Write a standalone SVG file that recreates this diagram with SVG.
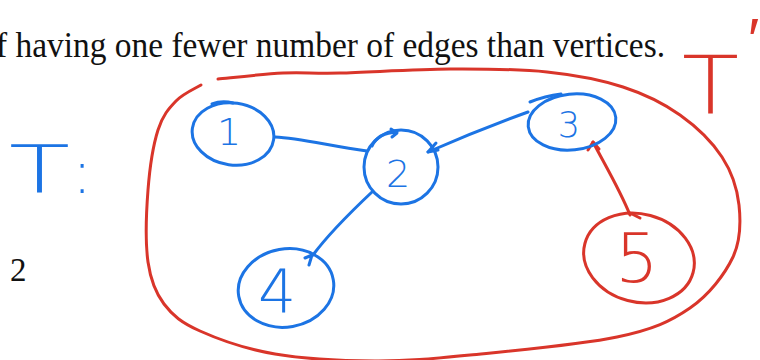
<svg xmlns="http://www.w3.org/2000/svg" width="760" height="360" viewBox="0 0 760 360">
<style>
.b{fill:none;stroke:#1c74e4;stroke-width:3;stroke-linecap:round;stroke-linejoin:round;}
.r{fill:none;stroke:#d9352a;stroke-width:3;stroke-linecap:round;stroke-linejoin:round;}
.bt{font-family:"DejaVu Sans",sans-serif;font-weight:200;fill:#1c74e4;}
.rt{font-family:"DejaVu Sans",sans-serif;font-weight:200;fill:#d9352a;}
</style>
<rect width="760" height="360" fill="#ffffff"/>
<g id="printed-text" font-family="'Liberation Serif', 'Times New Roman', serif" fill="#111111">
<text x="-4" y="57" font-size="35" textLength="669" lengthAdjust="spacingAndGlyphs">f having one fewer number of edges than vertices.</text>
<text x="10" y="281" font-size="33">2</text>
</g>
<g id="label-T-blue">
<text class="bt" y="193" font-size="66"><tspan x="9" textLength="61" lengthAdjust="spacingAndGlyphs">T</tspan><tspan x="72" font-size="60">:</tspan></text>
</g>
<g id="label-T-red">
<text class="rt" y="113" font-size="80"><tspan x="682" textLength="57" lengthAdjust="spacingAndGlyphs">T</tspan><tspan x="748" y="60" font-size="60">′</tspan></text>
</g>
<g id="boundary-loop">
<path class="r" d="M201,85 C196.8,87.7 183.2,93.5 176,101 C168.8,108.5 162.7,115.2 158,130 C153.3,144.8 149.7,168 148,190 C146.3,212 145.3,243 148,262 C150.7,281 155.3,292.5 164,304 C172.7,315.5 181.5,322.7 200,331 C218.5,339.3 245.8,349 275,354 C304.2,359 342.5,360.8 375,361 C407.5,361.2 429.7,359 470,355 C510.3,351 580.3,344.8 617,337 C653.7,329.2 670.7,321.3 690,308 C709.3,294.7 724.8,274.2 733,257 C741.2,239.8 740.8,221.7 739,205 C737.2,188.3 731.8,172 722,157 C712.2,142 696.5,126.7 680,115 C663.5,103.3 645.2,94.2 623,87 C600.8,79.8 575.8,75 547,72 C518.2,69 484.5,68.8 450,69 C415.5,69.2 367.8,72.3 340,73 C312.2,73.7 303.3,72 283,73 C262.7,74 228.8,78 218,79"/>
</g>
<g id="connectors">
<path class="b" d="M275,137 C300,138 330,146 367,151"/>
<path class="b" d="M428,152 C460,138 495,124 528,112"/>
<path class="b" d="M436,143 L428,152 L438,150"/>
<path class="b" d="M372,192 C355,208 330,232 313,255"/>
<path class="b" d="M305,258 L312,255 L309,265"/>
<path class="r" d="M630,215 C620,190 605,165 593,142"/>
<path class="r" d="M588,150 L593,142 L599,149"/>
</g>
<g id="node-1">
<ellipse class="b" cx="233" cy="134" rx="41" ry="31" transform="rotate(8 233 134)"/>
<path class="b" d="M212,104 Q222,100 233,103"/>
<text class="bt" x="229" y="145" font-size="38" text-anchor="middle">1</text>
</g>
<g id="node-2">
<ellipse class="b" cx="401" cy="167" rx="37" ry="37"/>
<path class="b" d="M372,146 Q378,133 397,132 M391,129 L397,133 L392,137"/>
<text class="bt" x="398" y="187" font-size="38" text-anchor="middle">2</text>
</g>
<g id="node-3">
<ellipse class="b" cx="572" cy="122" rx="44" ry="28" transform="rotate(-6 572 122)"/>
<path class="b" d="M530,102 Q545,96 561,94"/>
<text class="bt" x="569" y="137" font-size="35" text-anchor="middle">3</text>
</g>
<g id="node-4">
<ellipse class="b" cx="286" cy="288" rx="48" ry="39" transform="rotate(-10 286 288)"/>
<text class="bt" x="277" y="313" font-size="60" text-anchor="middle">4</text>
</g>
<g id="node-5">
<ellipse class="r" cx="639" cy="258" rx="56" ry="44" transform="rotate(15 639 258)"/>
<path class="r" d="M630,213 L640,218"/>
<text class="rt" x="637" y="282" font-size="68" text-anchor="middle">5</text>
</g>
</svg>
